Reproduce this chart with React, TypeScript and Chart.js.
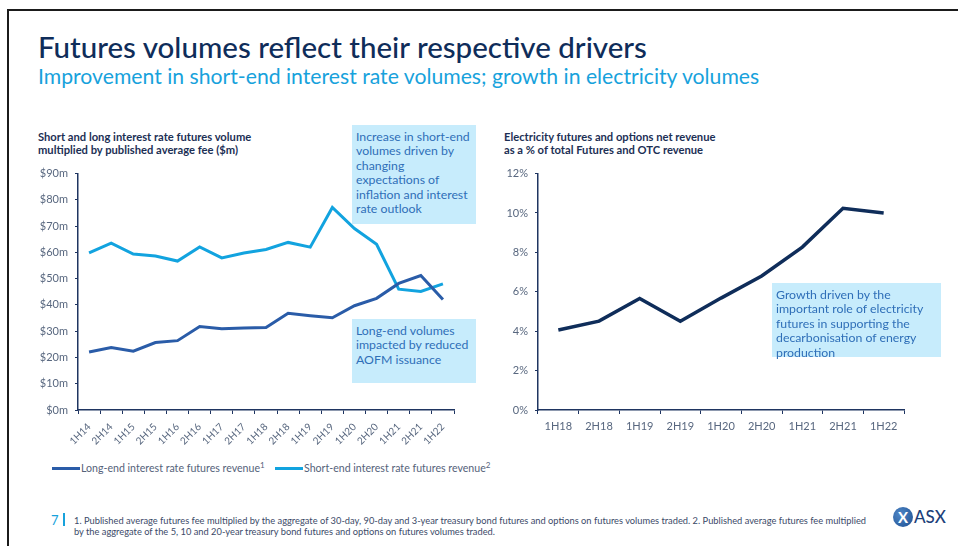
import React, { useEffect, useRef } from "react";
import { Chart, registerables } from "chart.js";

Chart.register(...registerables);

const leftCategories = ["1H14", "2H14", "1H15", "2H15", "1H16", "2H16", "1H17", "2H17", "1H18", "2H18", "1H19", "2H19", "1H20", "2H20", "1H21", "2H21", "1H22"];
const longEndRevenue = [22.1, 23.8, 22.4, 25.7, 26.4, 31.8, 30.9, 31.2, 31.4, 36.8, 35.9, 35.1, 39.7, 42.5, 48.2, 51.2, 42.1];
const shortEndRevenue = [59.8, 63.5, 59.4, 58.6, 56.7, 62.1, 57.9, 59.8, 61.1, 63.8, 62.0, 77.1, 69.1, 63.1, 46.0, 45.1, 48.0];
const leftYTicks = [0, 10, 20, 30, 40, 50, 60, 70, 80, 90];

const rightCategories = ["1H18", "2H18", "1H19", "2H19", "1H20", "2H20", "1H21", "2H21", "1H22"];
const electricityShare = [4.06, 4.51, 5.66, 4.5, 5.68, 6.8, 8.27, 10.24, 10.0];
const rightYTicks = [0, 2, 4, 6, 8, 10, 12];

const NAVY = "#0f2d5a";
const AXIS = "#1f3561";
const TICK_TEXT = "#58677f";
const LONG_COLOR = "#2a5ca8";
const SHORT_COLOR = "#12a3df";
const BOX_BG = "#c7ecfc";
const BOX_TEXT = "#2f6fb8";
const FONT = "Lato, 'Open Sans', sans-serif";

function LeftChart() {
  const ref = useRef<HTMLCanvasElement>(null);
  useEffect(() => {
    if (!ref.current) return;
    const chart = new Chart(ref.current, {
      type: "line",
      data: {
        labels: leftCategories,
        datasets: [
          {
            label: "Long-end interest rate futures revenue",
            data: longEndRevenue,
            borderColor: LONG_COLOR,
            borderWidth: 3,
            pointRadius: 0,
            tension: 0,
          },
          {
            label: "Short-end interest rate futures revenue",
            data: shortEndRevenue,
            borderColor: SHORT_COLOR,
            borderWidth: 3,
            pointRadius: 0,
            tension: 0,
          },
        ],
      },
      options: {
        animation: false,
        responsive: true,
        maintainAspectRatio: false,
        layout: { padding: { top: 13, right: 16, left: 0, bottom: 0 } },
        plugins: { legend: { display: false }, tooltip: { enabled: false } },
        scales: {
          x: {
            type: "category",
            offset: true,
            grid: { display: true, offset: true, drawOnChartArea: false, drawTicks: true, tickLength: 4, color: AXIS, lineWidth: 1 },
            border: { display: true, color: AXIS, width: 1.5 },
            ticks: {
              autoSkip: false,
              minRotation: 45,
              maxRotation: 45,
              padding: 7,
              color: TICK_TEXT,
              font: { family: FONT, size: 10 },
            },
            afterFit: (s: any) => {
              s.height = 40;
            },
          },
          y: {
            min: 0,
            max: 90,
            afterBuildTicks: (s: any) => {
              s.ticks = leftYTicks.map((v) => ({ value: v }));
            },
            grid: { display: true, drawOnChartArea: false, drawTicks: true, tickLength: 3, color: AXIS, lineWidth: 1 },
            border: { display: true, color: AXIS, width: 1.5 },
            ticks: {
              padding: 7,
              color: TICK_TEXT,
              font: { family: FONT, size: 11 },
              callback: (v: any) => "$" + v + "m",
            },
            afterFit: (s: any) => {
              s.width = 58;
            },
          },
        },
      },
    });
    return () => chart.destroy();
  }, []);
  return <canvas ref={ref} />;
}

function RightChart() {
  const ref = useRef<HTMLCanvasElement>(null);
  useEffect(() => {
    if (!ref.current) return;
    const chart = new Chart(ref.current, {
      type: "line",
      data: {
        labels: rightCategories,
        datasets: [
          {
            label: "Electricity futures and options net revenue share",
            data: electricityShare,
            borderColor: NAVY,
            borderWidth: 3.5,
            pointRadius: 0,
            tension: 0,
          },
        ],
      },
      options: {
        animation: false,
        responsive: true,
        maintainAspectRatio: false,
        layout: { padding: { top: 13, right: 46, left: 0, bottom: 0 } },
        plugins: { legend: { display: false }, tooltip: { enabled: false } },
        scales: {
          x: {
            type: "category",
            offset: true,
            grid: { display: true, offset: true, drawOnChartArea: false, drawTicks: true, tickLength: 4, color: AXIS, lineWidth: 1 },
            border: { display: true, color: AXIS, width: 1.5 },
            ticks: {
              autoSkip: false,
              maxRotation: 0,
              padding: 6,
              color: TICK_TEXT,
              font: { family: FONT, size: 11 },
            },
            afterFit: (s: any) => {
              s.height = 40;
            },
          },
          y: {
            min: 0,
            max: 12,
            afterBuildTicks: (s: any) => {
              s.ticks = rightYTicks.map((v) => ({ value: v }));
            },
            grid: { display: true, drawOnChartArea: false, drawTicks: true, tickLength: 3, color: AXIS, lineWidth: 1 },
            border: { display: true, color: AXIS, width: 1.5 },
            ticks: {
              padding: 7,
              color: TICK_TEXT,
              font: { family: FONT, size: 11 },
              callback: (v: any) => v + "%",
            },
            afterFit: (s: any) => {
              s.width = 58;
            },
          },
        },
      },
    });
    return () => chart.destroy();
  }, []);
  return <canvas ref={ref} />;
}

const abs = (left: number, top: number, extra: React.CSSProperties = {}): React.CSSProperties => ({
  position: "absolute",
  left,
  top,
  ...extra,
});

function Box({ left, top, width, height, lines }: { left: number; top: number; width: number; height: number; lines: string[] }) {
  return (
    <div
      style={abs(left, top, {
        width,
        height,
        background: BOX_BG,
        color: BOX_TEXT,
        fontFamily: FONT,
        fontSize: 12.3,
        lineHeight: "14.4px",
        padding: "5px 0 0 4px",
        boxSizing: "border-box",
        whiteSpace: "nowrap",
      })}
    >
      {lines.map((l, i) => (
        <div key={i}>{l}</div>
      ))}
    </div>
  );
}

export default function App() {
  return (
    <div style={{ position: "absolute", left: 0, top: 0, width: 958, height: 546, background: "#fff", overflow: "hidden", fontFamily: FONT }}>
      <div style={abs(7, 9, { width: 960, height: 540, borderTop: "2px solid #1b1b1b", borderLeft: "2px solid #1b1b1b" })} />
      <div style={abs(38, 29, { fontSize: 29.5, color: NAVY, whiteSpace: "nowrap", lineHeight: "36px", fontWeight: 500 })}>
        Futures volumes reflect their respective drivers
      </div>
      <div style={abs(38, 63, { fontSize: 21.2, color: "#17a2dc", whiteSpace: "nowrap", lineHeight: "26px" })}>
        Improvement in short-end interest rate volumes; growth in electricity volumes
      </div>

      <div style={abs(38, 130, { fontSize: 11.2, fontWeight: 700, color: "#1c2f55", lineHeight: "13px", whiteSpace: "nowrap" })}>
        <div>Short and long interest rate futures volume</div>
        <div>multiplied by published average fee ($m)</div>
      </div>
      <div style={abs(504, 130, { fontSize: 11.2, fontWeight: 700, color: "#1c2f55", lineHeight: "13px", whiteSpace: "nowrap" })}>
        <div>Electricity futures and options net revenue</div>
        <div>as a % of total Futures and OTC revenue</div>
      </div>

      <div style={abs(20, 160, { width: 450, height: 290 })}>
        <LeftChart />
      </div>
      <div style={abs(480, 160, { width: 470, height: 290 })}>
        <RightChart />
      </div>

      <Box
        left={352}
        top={125}
        width={124}
        height={99}
        lines={["Increase in short-end", "volumes driven by", "changing", "expectations of", "inflation and interest", "rate outlook"]}
      />
      <Box left={352} top={319} width={124} height={64} lines={["Long-end volumes", "impacted by reduced", "AOFM issuance"]} />
      <Box
        left={772}
        top={283}
        width={169}
        height={74}
        lines={["Growth driven by the", "important role of electricity", "futures in supporting the", "decarbonisation of energy", "production"]}
      />

      <div style={abs(52, 461, { display: "flex", alignItems: "center", fontSize: 10.6, color: "#55627a", whiteSpace: "nowrap", height: 14 })}>
        <span style={{ display: "inline-block", width: 28, height: 3, background: LONG_COLOR, marginRight: 1 }} />
        <span>Long-end interest rate futures revenue</span>
        <sup style={{ fontSize: 8, marginTop: -6 }}>1</sup>
      </div>
      <div style={abs(275, 461, { display: "flex", alignItems: "center", fontSize: 10.6, color: "#55627a", whiteSpace: "nowrap", height: 14 })}>
        <span style={{ display: "inline-block", width: 28, height: 3, background: SHORT_COLOR, marginRight: 1 }} />
        <span>Short-end interest rate futures revenue</span>
        <sup style={{ fontSize: 8, marginTop: -6 }}>2</sup>
      </div>

      <div style={abs(51, 512, { fontSize: 13, color: "#17a2dc", lineHeight: "16px" })}>7</div>
      <div style={abs(63, 513, { width: 1.5, height: 13, background: "#17a2dc" })} />
      <div style={abs(74, 515, { fontSize: 9.3, color: "#3b4a68", lineHeight: "11px", whiteSpace: "nowrap" })}>
        <div>
          1. Published average futures fee multiplied by the aggregate of 30-day, 90-day and 3-year treasury bond futures and options on futures volumes traded. 2. Published average futures fee multiplied
        </div>
        <div>by the aggregate of the 5, 10 and 20-year treasury bond futures and options on futures volumes traded.</div>
      </div>

      <div style={abs(893, 506, { display: "flex", alignItems: "center" })}>
        <div
          style={{
            width: 20,
            height: 20,
            borderRadius: 10,
            background: "radial-gradient(circle at 35% 35%, #4f86c6, #1d4f91)",
            color: "#fff",
            fontSize: 15,
            fontWeight: 700,
            lineHeight: "20px",
            textAlign: "center",
          }}
        >
          X
        </div>
        <div style={{ fontSize: 17, color: "#1d3f7a", marginLeft: 1, fontWeight: 500 }}>ASX</div>
      </div>
    </div>
  );
}
